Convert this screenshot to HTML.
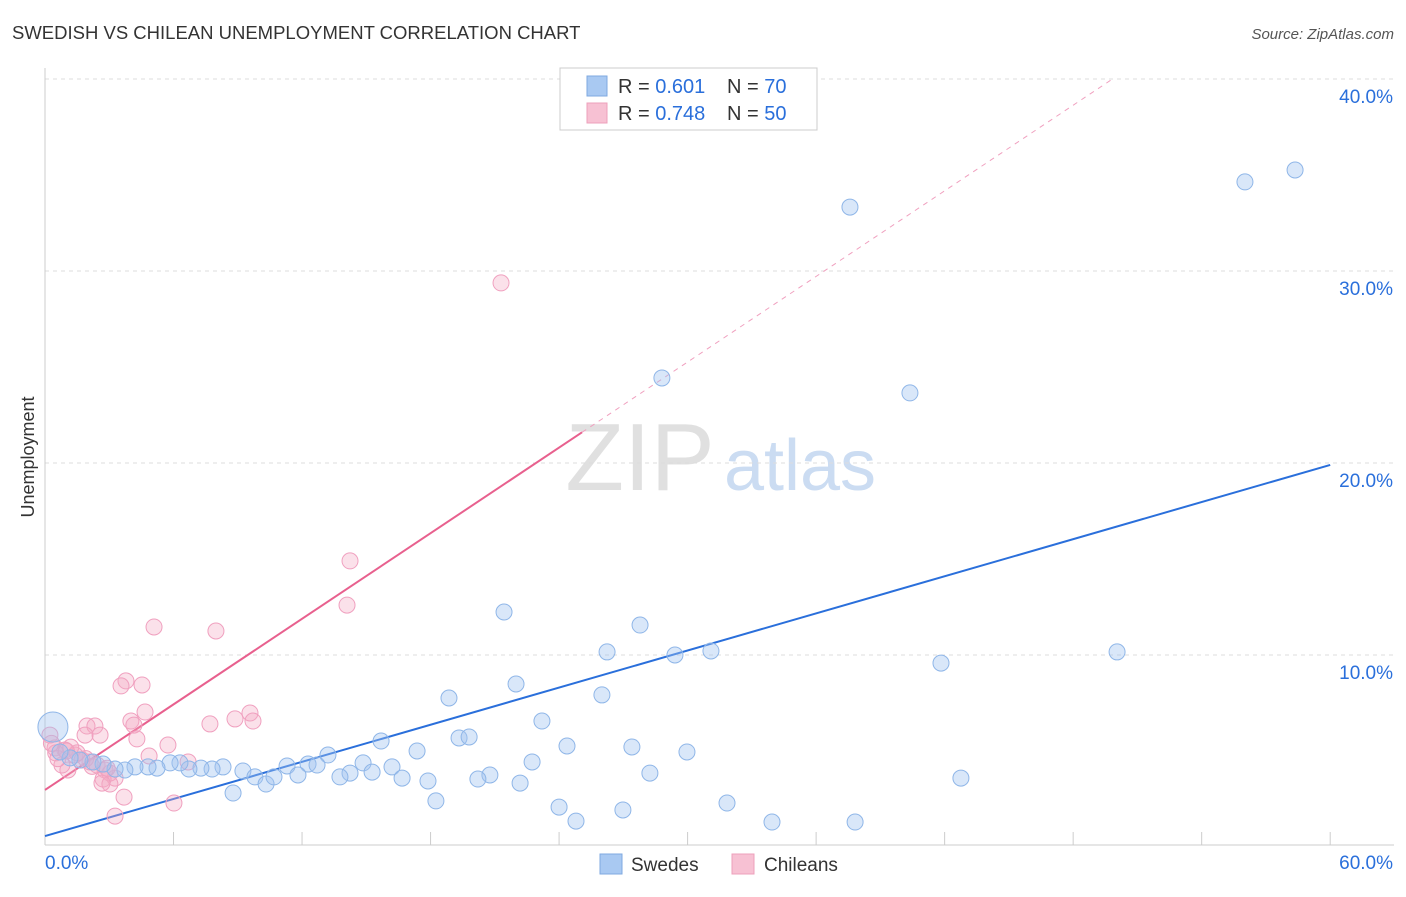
<!DOCTYPE html>
<html><head><meta charset="utf-8"><style>
body{margin:0;background:#fff;font-family:"Liberation Sans",sans-serif}
svg text{font-family:"Liberation Sans",sans-serif}
</style></head><body>
<svg id="chart" width="1406" height="892">
<text x="12" y="39" font-size="18.5" fill="#333">SWEDISH VS CHILEAN UNEMPLOYMENT CORRELATION CHART</text>
<text x="1394" y="39" font-size="15" fill="#555" font-style="italic" text-anchor="end">Source: ZipAtlas.com</text>
<text x="34" y="457" font-size="18" fill="#333" transform="rotate(-90 34 457)" text-anchor="middle">Unemployment</text>
<text x="640" y="490" font-size="96" fill="#e0e0e0" font-family="Liberation Serif" text-anchor="middle">ZIP</text>
<text x="800" y="490" font-size="72" fill="#cbdcf2" text-anchor="middle">atlas</text>
<g id="grid"></g><g id="axes"></g><g id="lines"></g><g id="pts"></g>
<g>
<rect x="560" y="68" width="257" height="62" fill="#fff" stroke="#ccc"/>
<rect x="587" y="76" width="20" height="20" fill="#a9c9f2" stroke="#7fa9e0"/>
<rect x="587" y="103" width="20" height="20" fill="#f7c1d3" stroke="#eea0bb"/>
<text x="618" y="93" font-size="20" fill="#333">R = <tspan fill="#2a6fdb">0.601</tspan></text>
<text x="727" y="93" font-size="20" fill="#333">N = <tspan fill="#2a6fdb">70</tspan></text>
<text x="618" y="120" font-size="20" fill="#333">R = <tspan fill="#2a6fdb">0.748</tspan></text>
<text x="727" y="120" font-size="20" fill="#333">N = <tspan fill="#2a6fdb">50</tspan></text>
</g>
<g>
<rect x="600" y="854" width="22" height="20" fill="#a9c9f2" stroke="#7fa9e0"/>
<text x="631" y="871" font-size="19" fill="#333">Swedes</text>
<rect x="732" y="854" width="22" height="20" fill="#f7c1d3" stroke="#eea0bb"/>
<text x="764" y="871" font-size="19" fill="#333">Chileans</text>
</g>
</svg>
<script>
const blueX=[58.36,56.02,37.58,28.8,40.38,21.43,27.78,26.24,29.41,31.09,50.05,41.83,21.99,18.86,26.0,23.2,19.33,19.8,15.69,17.37,24.37,27.4,29.97,13.21,22.74,14.85,16.2,28.24,42.76,20.77,20.21,14.24,13.77,15.27,16.67,17.88,22.18,11.3,12.28,12.7,9.24,9.8,10.32,10.69,11.81,8.78,18.25,24.0,26.98,31.84,24.79,33.94,37.82,8.31,7.8,7.28,6.72,6.3,5.84,5.23,4.81,4.2,3.73,3.27,2.71,2.24,1.63,1.17,0.7,0.37];
const blueY=[35.26,34.64,33.33,24.43,23.65,12.24,11.56,10.16,10.0,10.21,10.16,9.58,8.49,7.76,7.92,6.56,5.68,5.73,5.52,5.0,5.26,5.21,4.95,4.79,4.43,4.38,4.17,3.85,3.59,3.75,3.54,3.85,3.65,3.9,3.59,3.44,3.33,4.22,4.32,4.27,3.96,3.65,3.28,3.65,3.75,2.81,2.4,2.08,1.93,2.29,1.35,1.3,1.3,4.17,4.06,4.11,4.06,4.38,4.38,4.11,4.17,4.17,4.01,4.06,4.32,4.43,4.53,4.64,4.95,6.25];
const pinkX=[21.29,14.24,14.1,5.09,7.98,3.78,3.55,4.53,4.67,9.57,9.71,8.87,7.7,4.01,4.15,1.96,2.33,1.87,2.57,4.29,5.74,4.86,6.68,0.23,0.47,0.93,1.4,1.73,2.1,2.43,2.8,3.03,3.27,2.71,3.03,2.66,1.07,0.79,3.69,3.27,6.02,0.5,1.2,1.9,2.2,0.3,1.5,2.9,0.6,1.0];
const pinkY=[29.38,14.9,12.6,11.46,11.25,8.65,8.39,8.44,7.03,6.98,6.56,6.67,6.41,6.56,6.35,6.3,6.3,5.83,5.83,5.63,5.31,4.74,4.43,5.83,5.16,5.05,4.79,4.53,4.43,4.27,4.01,3.85,3.59,3.54,3.28,3.33,4.01,4.27,2.6,1.61,2.29,4.9,5.2,4.6,4.2,5.4,4.9,4.1,4.6,5.0];
const blueFit=[0.57,19.9];
const pinkFit=[2.97,0.743];
const yTicks=[10,20,30,40];
const X=v=>45+v*21.42, Y=v=>847-v*19.2;
const NS='http://www.w3.org/2000/svg';
function mk(t,a,p){const e=document.createElementNS(NS,t);for(const k in a)e.setAttribute(k,a[k]);p.appendChild(e);return e;}
const grid=document.getElementById('grid'),axes=document.getElementById('axes'),lines=document.getElementById('lines'),pts=document.getElementById('pts');
yTicks.forEach(t=>{const l=mk('line',{x1:45,x2:1394,y1:Y(t),y2:Y(t),stroke:'#ddd','stroke-dasharray':'4 4'},grid);


const tx=mk('text',{x:1393,y:Y(t)+24,'font-size':19,fill:'#2a6fdb','text-anchor':'end'},axes);tx.textContent=t.toFixed(1)+'%';

});
mk('line',{x1:45,x2:45,y1:68,y2:845,stroke:'#ccc'},axes);
mk('line',{x1:45,x2:1394,y1:845,y2:845,stroke:'#ccc'},axes);
for(let i=0;i<=10;i++){mk('line',{x1:X(i*6),x2:X(i*6),y1:832,y2:845,stroke:'#ccc'},axes);}
let t0=mk('text',{x:45,y:869,'font-size':19,fill:'#2a6fdb'},axes);t0.textContent='0.0%';

let t1=mk('text',{x:1393,y:869,'font-size':19,fill:'#2a6fdb','text-anchor':'end'},axes);t1.textContent='60.0%';

pinkX.forEach((x,i)=>{const c=mk('circle',{cx:X(x),cy:Y(pinkY[i]),r:8,fill:'rgba(244,170,195,0.35)',stroke:'#f0a0bf','stroke-width':1},pts);

});
blueX.forEach((x,i)=>{const c=mk('circle',{cx:X(x),cy:Y(blueY[i]),r:i==blueX.length-1?15:8,fill:'rgba(160,196,240,0.4)',stroke:'#8fb6e8','stroke-width':1},pts);

});
const bl=mk('line',{x1:X(0),y1:Y(blueFit[0]),x2:X(60),y2:Y(blueFit[1]),stroke:'#2a6fdb','stroke-width':2},lines);


const pe=(40-pinkFit[0])/pinkFit[1];
const pd=mk('line',{x1:X(25.07),y1:Y(pinkFit[0]+pinkFit[1]*25.07),x2:X(pe),y2:Y(40),stroke:'#f0a0bf','stroke-width':1,'stroke-dasharray':'5 5'},lines);


const pl=mk('line',{x1:X(0),y1:Y(pinkFit[0]),x2:X(25.07),y2:Y(pinkFit[0]+pinkFit[1]*25.07),stroke:'#e8608e','stroke-width':2},lines);


</script>
</body></html>
